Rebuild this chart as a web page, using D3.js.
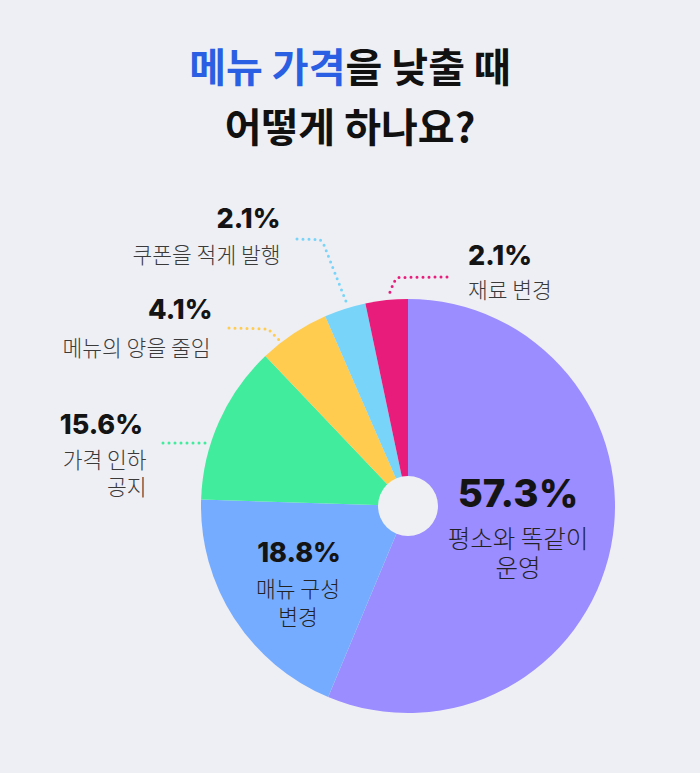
<!DOCTYPE html>
<html>
<head>
<meta charset="utf-8">
<script src="https://cdn.jsdelivr.net/npm/d3@7"></script>
<style>
  html, body { margin: 0; padding: 0; background: #eeeff4; }
  svg { display: block; }
</style>
</head>
<body>
<div id="chart"></div>
<script>
// ---- data ----
const categories = ["평소와 똑같이 운영", "매뉴 구성 변경", "가격 인하 공지", "메뉴의 양을 줄임", "쿠폰을 적게 발행", "재료 변경"];
const percentLabels = [57.3, 18.8, 15.6, 4.1, 2.1, 2.1];
const sliceShares = [56.3, 19.2, 12.4, 5.55, 3.25, 3.3];
const labelLines = [["평소와 똑같이", "운영"], ["매뉴 구성", "변경"], ["가격 인하", "공지"], ["메뉴의 양을 줄임"], ["쿠폰을 적게 발행"], ["재료 변경"]];
const titleLine1 = [{ t: "메뉴 가격", blue: true }, { t: "을 낮출 때", blue: false }];
const titleLine2 = "어떻게 하나요?";

// ---- style / layout ----
const W = 700, H = 773;
const colors = ["#9b8cff", "#76acff", "#41ec9c", "#ffcc4f", "#78d4f9", "#e81c7a"];
const cx = 408, cy = 506, R = 207, holeR = 30;
const KR = "'Noto Sans CJK KR', 'Noto Sans', sans-serif";
const NUM = "Inter, 'Noto Sans', sans-serif";

const labelLayout = [
  { px: 518, py: 507, anchor: "middle", tx: 518, ty: 547.5, lh: 29.7, fs: 24.5, ps: 38.5, color: "#222" },
  { px: 299, py: 562, anchor: "middle", tx: 298, ty: 596.5, lh: 28.4, fs: 21.5, ps: 27, color: "#222" },
  { px: 143, py: 433.5, anchor: "end", tx: 146.5, ty: 468, lh: 26.7, fs: 21.5, ps: 27, color: "#3a3a3a" },
  { px: 212.5, py: 318.5, anchor: "end", tx: 210.5, ty: 355.5, lh: 27, fs: 21.5, ps: 27, color: "#3a3a3a" },
  { px: 280.5, py: 228, anchor: "end", tx: 280.5, ty: 263, lh: 27, fs: 21.5, ps: 27, color: "#3a3a3a" },
  { px: 468, py: 265, anchor: "start", tx: 468, ty: 298, lh: 27, fs: 21.5, ps: 27, color: "#3a3a3a" }
];
const leaders = [
  { i: 2, pts: [[163, 443], [207, 443]] },
  { i: 3, pts: [[229, 328], [268, 329], [279, 340]] },
  { i: 4, pts: [[297, 239], [320, 239.5], [324, 245], [347, 304]] },
  { i: 5, pts: [[447, 277], [398, 277.5], [394, 282], [388, 297]] }
];

const svg = d3.select("#chart").append("svg").attr("width", W).attr("height", H)
  .style("background", "#eeeff4");

// title
const t1 = svg.append("text").attr("x", 350).attr("y", 81.5).attr("text-anchor", "middle")
  .style("font-family", KR).style("font-weight", 700).style("font-size", "40px");
titleLine1.forEach(s => t1.append("tspan").text(s.t).attr("fill", s.blue ? "#2a5fe3" : "#111"));
svg.append("text").attr("x", 350).attr("y", 141.5).attr("text-anchor", "middle")
  .style("font-family", KR).style("font-weight", 700).style("font-size", "40px")
  .attr("fill", "#111").text(titleLine2);

// pie
const pie = d3.pie().sort(null).value(d => d);
const arcs = pie(sliceShares);
const arc = d3.arc().innerRadius(0).outerRadius(R);
const g = svg.append("g").attr("transform", `translate(${cx},${cy})`);
g.selectAll("path").data(arcs).join("path")
  .attr("d", arc).attr("fill", (d, i) => colors[i]);
g.append("circle").attr("r", holeR).attr("fill", "#eff0f4");

// leader lines
const line = d3.line();
svg.selectAll("path.leader").data(leaders).join("path")
  .attr("class", "leader")
  .attr("d", d => line(d.pts))
  .attr("fill", "none")
  .attr("stroke", d => colors[d.i])
  .attr("stroke-width", 3)
  .attr("stroke-linecap", "round")
  .attr("stroke-dasharray", "0 6");

// labels
const fmt = d3.format(".1f");
labelLayout.forEach((L, i) => {
  svg.append("text").attr("x", L.px).attr("y", L.py).attr("text-anchor", L.anchor)
    .style("font-family", NUM).style("font-weight", 800).style("font-size", L.ps + "px")
    .attr("fill", "#141414").text(fmt(percentLabels[i]) + "%");
  labelLines[i].forEach((s, j) => {
    svg.append("text").attr("x", L.tx).attr("y", L.ty + j * L.lh).attr("text-anchor", L.anchor)
      .style("font-family", KR).style("font-weight", 300).style("font-size", L.fs + "px")
      .attr("fill", L.color).text(s);
  });
});
</script>
</body>
</html>
